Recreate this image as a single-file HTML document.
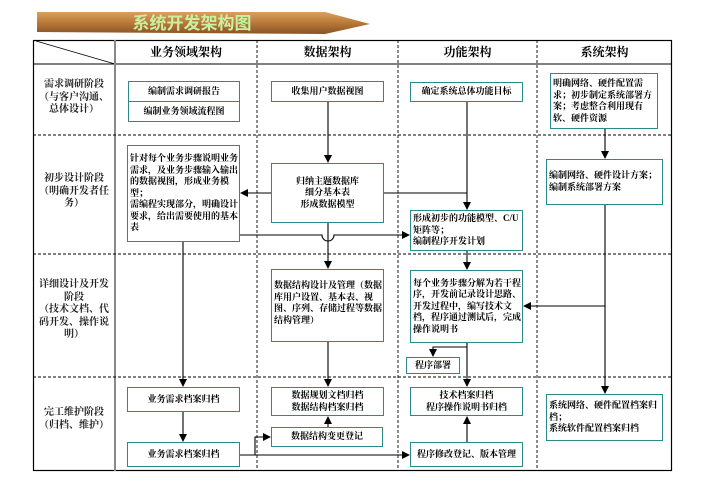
<!DOCTYPE html>
<html><head><meta charset="utf-8"><style>
body{margin:0;width:702px;height:496px;background:#fff;font-family:"Liberation Serif","Noto Serif CJK SC","Noto Sans CJK SC",serif;position:relative;overflow:hidden}
.b{position:absolute;border:1.5px solid #2a8a8a;box-sizing:border-box;font-size:9px;font-weight:bold;line-height:11.5px;background:#fff;display:flex;align-items:center;justify-content:center;text-align:center}
.l{justify-content:flex-start;text-align:left;padding-left:2px;padding-right:1px}
.h{position:absolute;top:40px;height:24px;line-height:24px;font-size:12px;font-weight:bold;text-align:center}
.r{position:absolute;left:33px;width:82px;font-size:10px;line-height:12.5px;text-align:center;font-weight:bold;color:#222}
svg{position:absolute;left:0;top:0}
</style></head><body>
<svg width="702" height="496">
<defs><marker id="a" markerWidth="8" markerHeight="8" refX="7" refY="4" orient="auto" markerUnits="userSpaceOnUse"><path d="M0,0L8,4L0,8z" fill="#000"/></marker>
<linearGradient id="w" x1="0" y1="0" x2="0" y2="1"><stop offset="0" stop-color="#d9a060"/><stop offset=".5" stop-color="#b87838"/><stop offset="1" stop-color="#8a5428"/></linearGradient></defs>
<polygon points="37,12 325,12 370,24 325,34 37,32" fill="url(#w)"/>
<text x="192" y="29" font-size="17" font-weight="bold" fill="#c8f0a0" text-anchor="middle" font-family="Noto Sans CJK SC,sans-serif">系统开发架构图</text>
<rect x="33.5" y="40.5" width="638" height="430" fill="none" stroke="#000" stroke-width="1.2"/>
<line x1="33" y1="64" x2="672" y2="64" stroke="#000"/>
<line x1="36" y1="41" x2="115" y2="64" stroke="#000" stroke-width=".8"/>
<line x1="115" y1="40" x2="115" y2="471" stroke="#888" stroke-width="2"/>
<g stroke="#000" stroke-dasharray="3,2" stroke-width=".9">
<line x1="257" y1="40" x2="257" y2="471"/><line x1="398" y1="40" x2="398" y2="471"/><line x1="537" y1="40" x2="537" y2="471"/>
<line x1="33" y1="135" x2="672" y2="135"/><line x1="33" y1="254" x2="672" y2="254"/><line x1="33" y1="377" x2="672" y2="377"/></g>
<g stroke="#000" stroke-width="1.1" fill="none">
<line x1="328" y1="101" x2="328" y2="162" marker-end="url(#a)"/>
<line x1="271" y1="193" x2="241" y2="193" marker-end="url(#a)"/>
<polyline points="384,193 467,193"/>
<line x1="467" y1="102" x2="467" y2="209" marker-end="url(#a)"/>
<path d="M240,235 H322 A6,6 0 0 0 334,235 H409" marker-end="url(#a)"/>
<line x1="328" y1="223" x2="328" y2="268" marker-end="url(#a)"/>
<line x1="183" y1="242" x2="183" y2="386" marker-end="url(#a)"/>
<line x1="605" y1="129" x2="605" y2="158" marker-end="url(#a)"/>
<line x1="605" y1="205" x2="605" y2="393" marker-end="url(#a)"/>
<line x1="605" y1="306" x2="524" y2="306" marker-end="url(#a)"/>
<line x1="467" y1="251" x2="467" y2="269" marker-end="url(#a)"/>
<line x1="467" y1="343" x2="467" y2="386" marker-end="url(#a)"/>
<polyline points="467,347 433,347 433,356" marker-end="url(#a)"/>
<line x1="328" y1="342" x2="328" y2="386" marker-end="url(#a)"/>
<line x1="183" y1="412" x2="183" y2="441" marker-end="url(#a)"/>
<line x1="240" y1="455" x2="409" y2="455" marker-end="url(#a)"/>
<polyline points="255,455 255,437 270,437" marker-end="url(#a)"/>
<line x1="328" y1="427" x2="328" y2="417" marker-end="url(#a)"/>
<line x1="467" y1="442" x2="467" y2="417" marker-end="url(#a)"/>
</g></svg>
<div class="h" style="left:115px;width:142px">业务领域架构</div>
<div class="h" style="left:257px;width:141px">数据架构</div>
<div class="h" style="left:398px;width:139px">功能架构</div>
<div class="h" style="left:537px;width:135px">系统架构</div>
<div class="r" style="top:79px">需求调研阶段<br>（与客户沟通、<br>总体设计）</div>
<div class="r" style="top:173px">初步设计阶段<br>（明确开发者任<br>务）</div>
<div class="r" style="top:279px">详细设计及开发<br>阶段<br>（技术文档、代<br>码开发、操作说<br>明）</div>
<div class="r" style="top:407px">完工维护阶段<br>（归档、维护）</div>
<div class="b" style="left:128px;top:81px;width:112px;height:21px">编制需求调研报告</div>
<div class="b" style="left:128px;top:101px;width:112px;height:21px">编制业务领域流程图</div>
<div class="b" style="left:271px;top:81px;width:113px;height:21px">收集用户数据视图</div>
<div class="b" style="left:410px;top:82px;width:113px;height:20px">确定系统总体功能目标</div>
<div class="b l" style="left:550px;top:73px;width:108px;height:56px">明确网络、硬件配置需求；初步制定系统部署方案；考虑整合利用现有软、硬件资源</div>
<div class="b l" style="left:127px;top:145px;width:113px;height:97px">针对每个业务步骤说明业务需求，及业务步骤输入输出的数据视图，形成业务模型；<br>需编程实现部分，明确设计要求，给出需要使用的基本表</div>
<div class="b" style="left:271px;top:163px;width:113px;height:60px">归纳主题数据库<br>细分基本表<br>形成数据模型</div>
<div class="b l" style="left:410px;top:210px;width:113px;height:41px">形成初步的功能模型、C/U矩阵等；<br>编制程序开发计划</div>
<div class="b l" style="left:546px;top:159px;width:117px;height:46px;align-items:flex-start;padding-top:10px">编制网络、硬件设计方案；编制系统部署方案</div>
<div class="b l" style="left:271px;top:269px;width:113px;height:73px;align-items:flex-start;padding-top:10px">数据结构设计及管理（数据库用户设置、基本表、视图、序列、存储过程等数据结构管理）</div>
<div class="b l" style="left:410px;top:270px;width:113px;height:73px">每个业务步骤分解为若干程序，开发前记录设计思路、开发过程中，编写技术文档，程序通过测试后，完成操作说明书</div>
<div class="b" style="left:406px;top:357px;width:54px;height:17px">程序部署</div>
<div class="b" style="left:127px;top:387px;width:113px;height:25px">业务需求档案归档</div>
<div class="b" style="left:127px;top:442px;width:113px;height:25px">业务需求档案归档</div>
<div class="b" style="left:271px;top:387px;width:113px;height:29px">数据规划文档归档<br>数据结构档案归档</div>
<div class="b" style="left:271px;top:427px;width:112px;height:20px">数据结构变更登记</div>
<div class="b" style="left:410px;top:387px;width:113px;height:29px">技术档案归档<br>程序操作说明书归档</div>
<div class="b" style="left:410px;top:442px;width:113px;height:25px">程序修改登记、版本管理</div>
<div class="b l" style="left:546px;top:394px;width:117px;height:47px">系统网络、硬件配置档案归档；<br>系统软件配置档案归档</div>
</body></html>
